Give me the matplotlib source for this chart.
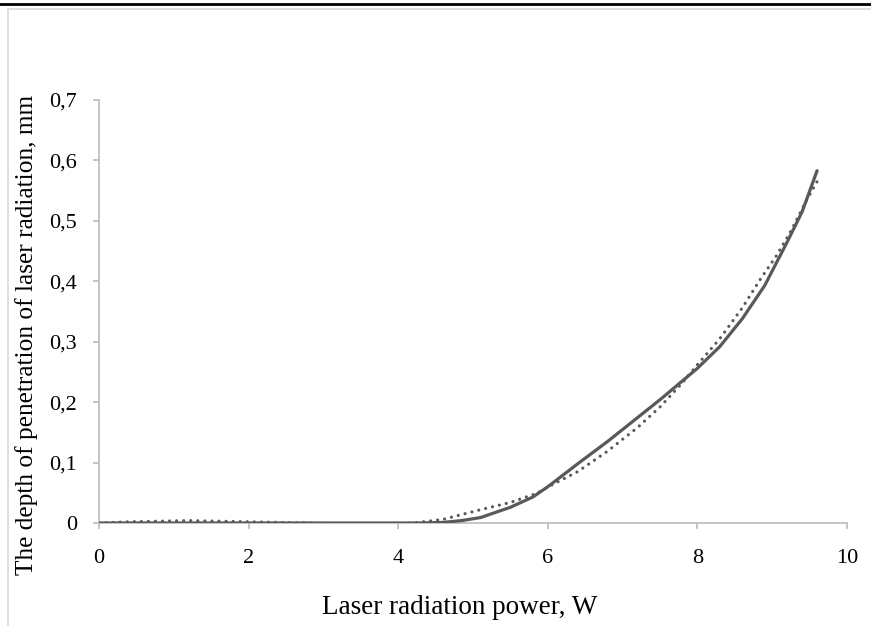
import numpy as np
import matplotlib.pyplot as plt
from matplotlib.lines import Line2D
from matplotlib.ticker import FuncFormatter

plt.rcParams["font.family"] = ["Liberation Serif", "DejaVu Serif"]

# ---------- data ----------
power = [0.0, 0.5, 1.0, 1.5, 2.0, 2.5, 3.0, 3.5, 4.0, 4.3, 4.6, 4.85, 5.1,
         5.5, 5.8, 6.0, 6.2, 6.4, 6.8, 7.5, 8.0, 8.3, 8.6, 8.9, 9.2, 9.4, 9.6]
depth = [0.0, 0.0, 0.0, 0.0, 0.0, 0.0, 0.0, 0.0, 0.0, 0.0, 0.001, 0.004,
         0.009, 0.026, 0.043, 0.060, 0.079, 0.098, 0.135, 0.204, 0.256, 0.292,
         0.338, 0.393, 0.465, 0.515, 0.583]

trend_x = [0.0, 0.4, 0.8, 1.2, 1.6, 2.0, 2.4, 2.8, 3.2, 3.6, 4.0, 4.2, 4.6,
           5.1, 5.5, 5.85, 6.1, 6.4, 6.8, 7.2, 7.5, 7.8, 8.0, 8.3, 8.6, 8.85,
           9.05, 9.25, 9.45, 9.6]
trend_y = [0.0, 0.002, 0.003, 0.004, 0.003, 0.002, 0.001, 0.0, -0.001, -0.001,
           -0.001, 0.0, 0.006, 0.022, 0.034, 0.049, 0.066, 0.085, 0.119, 0.158,
           0.192, 0.232, 0.262, 0.305, 0.356, 0.405, 0.441, 0.483, 0.532, 0.565]

x_ticks = [0, 2, 4, 6, 8, 10]
y_ticks = [0, 0.1, 0.2, 0.3, 0.4, 0.5, 0.6, 0.7]

# ---------- plot ----------
fig = plt.figure(figsize=(8.71, 6.26), dpi=100)
ax = fig.add_axes([99 / 871, 1 - 523 / 626, 748 / 871, 423 / 626])

line_color = "#595959"
ax.plot(power, depth, color=line_color, lw=2.3, solid_capstyle="round",
        solid_joinstyle="round", zorder=3)
ax.plot(trend_x, trend_y, color=line_color, lw=2.3,
        linestyle=(0, (0.01, 2.2)), dash_capstyle="round", zorder=2)

ax.set_xlim(0, 10)
ax.set_ylim(0, 0.7)
ax.set_xticks(x_ticks)
ax.set_yticks(y_ticks)
ax.yaxis.set_major_formatter(FuncFormatter(
    lambda v, p: "0" if abs(v) < 1e-9 else f"{v:.1f}".replace(".", ",")))

for side in ("top", "right"):
    ax.spines[side].set_visible(False)
for side in ("left", "bottom"):
    ax.spines[side].set_color("#BFBFBF")
    ax.spines[side].set_linewidth(1.3)
ax.tick_params(axis="both", direction="out", length=4.5, width=1.3,
               color="#BFBFBF", labelsize=16, labelcolor="black")
ax.tick_params(axis="x", pad=14)
ax.tick_params(axis="y", pad=11.5)

ax.set_xlabel("Laser radiation power, W", fontsize=19.5, va="center")
ax.xaxis.set_label_coords(0.482, (523 - 608) / 423)
ax.set_ylabel("The depth of penetration of laser radiation, mm", fontsize=18.3,
              va="center")
ax.yaxis.set_label_coords((27 - 99) / 748, (523 - 335) / 423)

# page / chart frame lines
fig.add_artist(Line2D([0, 1], [1 - 4 / 626, 1 - 4 / 626], color="black", lw=2))
fig.add_artist(Line2D([7.5 / 871, 1], [1 - 8.7 / 626, 1 - 8.7 / 626],
                      color="#D9D9D9", lw=1.2))
fig.add_artist(Line2D([7.5 / 871, 7.5 / 871], [0, 1 - 8.7 / 626],
                      color="#D9D9D9", lw=1.2))

fig.savefig("out.png", dpi=100)
